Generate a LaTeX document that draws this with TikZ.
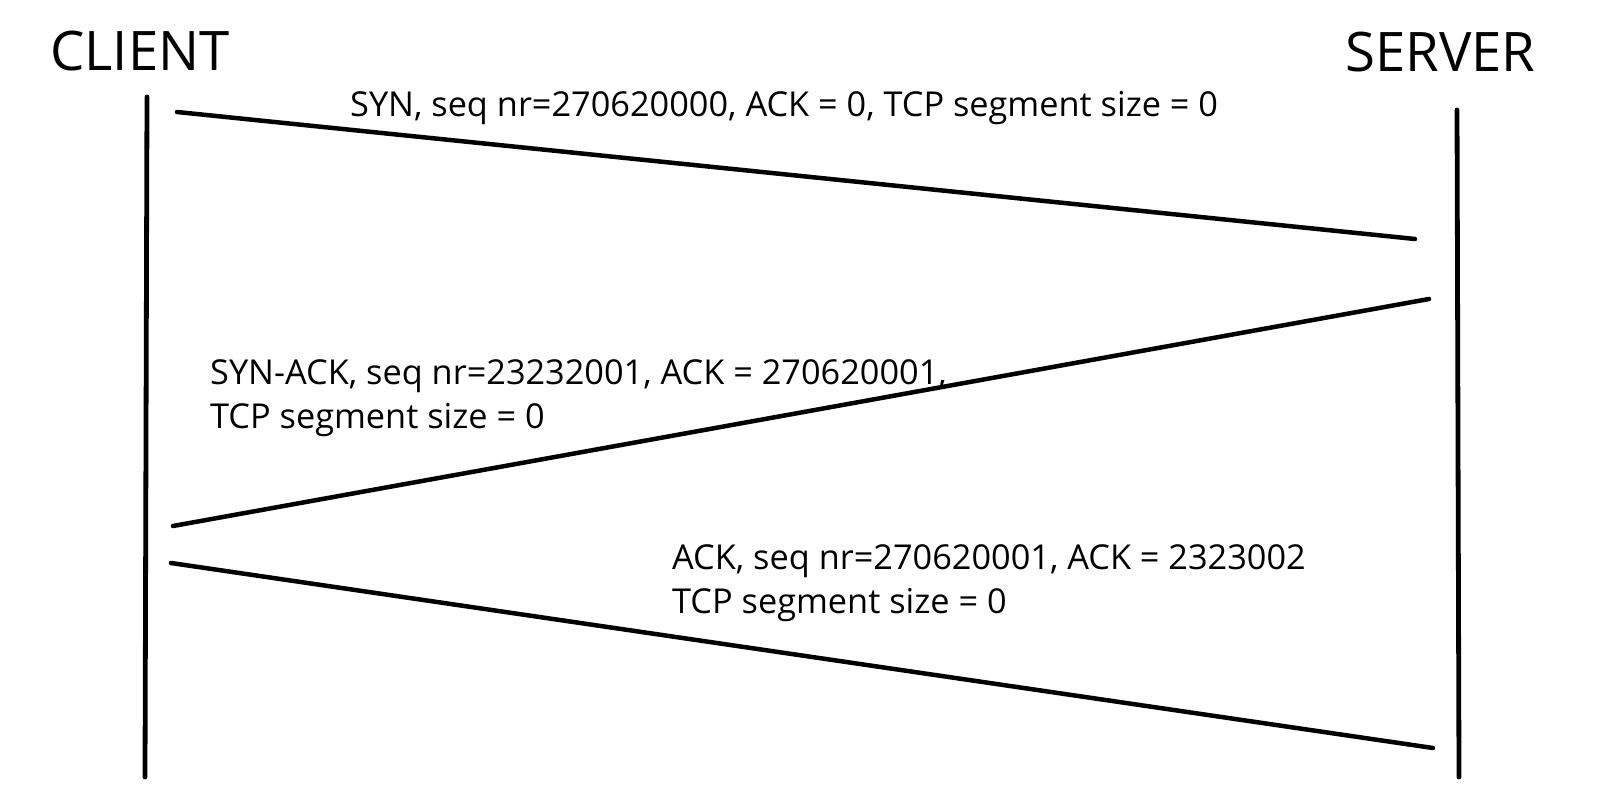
\documentclass[tikz,border=0pt]{standalone}
\usepackage{fontspec}
\setmainfont{Open Sans}
\begin{document}
\begin{tikzpicture}[x=1pt,y=-1pt,
  lifeline/.style={line width=4.8pt,line cap=round},
  msg/.style={line width=4.5pt,line cap=round},
  title/.style={font=\fontsize{54.5}{66}\selectfont,inner sep=0pt,anchor=base west},
  lbl/.style={font=\fontsize{34.3}{44}\selectfont,inner sep=0pt,anchor=base west,align=left}]
\useasboundingbox[fill=white] (0,0) rectangle (1600,794);
\node[title] (client) at (50,71) {CLIENT};
\node[title] (server) at (1345,72) {SERVER};
\coordinate (ctop) at (147,97);
\coordinate (cbot) at (145,777);
\coordinate (stop) at (1457,110);
\coordinate (sbot) at (1459,777);
\draw[lifeline] (ctop) -- (cbot);
\draw[lifeline] (stop) -- (sbot);
\coordinate (m1a) at (177,112);
\coordinate (m1b) at (1415,239);
\coordinate (m2a) at (1429,299);
\coordinate (m2b) at (173,526);
\coordinate (m3a) at (171,563);
\coordinate (m3b) at (1433,748);
\draw[msg] (m1a) -- (m1b);
\draw[msg] (m2a) -- (m2b);
\draw[msg] (m3a) -- (m3b);
\node[lbl] (l1) at (350,117) {SYN, seq nr=270620000, ACK = 0, TCP segment size = 0};
\node[lbl] (l2) at (210,428) {SYN-ACK, seq nr=23232001, ACK = 270620001,\\TCP segment size = 0};
\node[lbl] (l3) at (672,613) {ACK, seq nr=270620001, ACK = 2323002\\TCP segment size = 0};
\end{tikzpicture}
\end{document}
